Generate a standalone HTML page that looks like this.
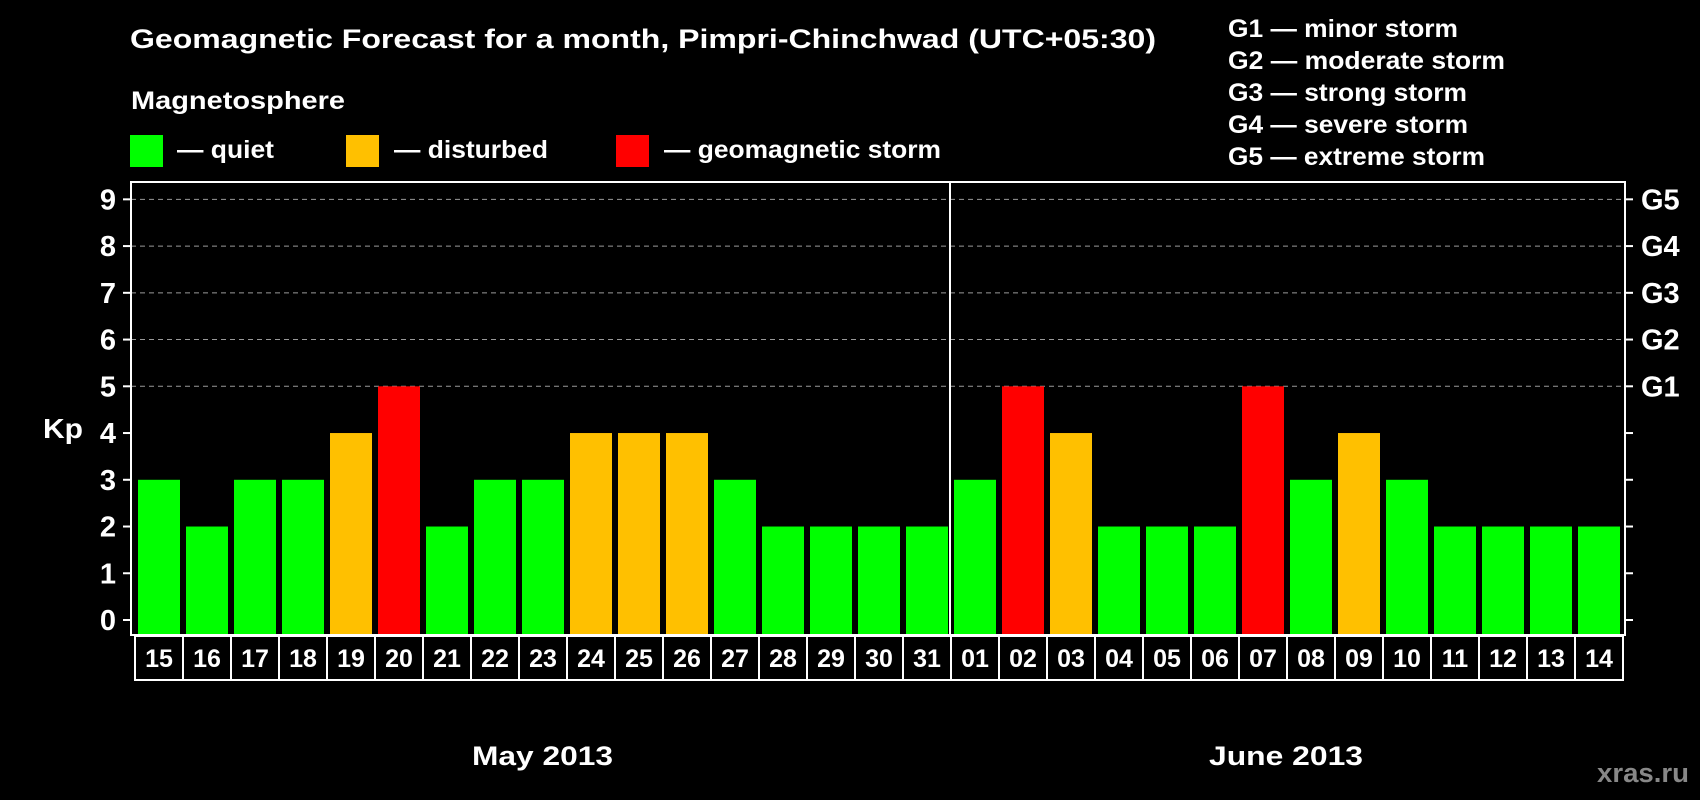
<!DOCTYPE html>
<html><head><meta charset="utf-8"><style>
body{margin:0;background:#000;width:1700px;height:800px;overflow:hidden}
svg{display:block;font-family:"Liberation Sans",Arial,sans-serif;font-weight:bold}
</style></head><body>
<svg id="c" width="1700" height="800" viewBox="0 0 1700 800">
<rect width="1700" height="800" fill="#000"/>
<text x="130" y="48" fill="#fff" font-size="27" textLength="1026" lengthAdjust="spacingAndGlyphs">Geomagnetic Forecast for a month, Pimpri-Chinchwad (UTC+05:30)</text>
<text x="131" y="109" fill="#fff" font-size="25" textLength="214" lengthAdjust="spacingAndGlyphs">Magnetosphere</text>
<g><rect x="130" y="135" width="33" height="32" fill="#00ff00"/><text x="177" y="158" fill="#fff" font-size="25" textLength="97" lengthAdjust="spacingAndGlyphs">— quiet</text></g>
<g><rect x="346" y="135" width="33" height="32" fill="#ffc000"/><text x="394" y="158" fill="#fff" font-size="25" textLength="154" lengthAdjust="spacingAndGlyphs">— disturbed</text></g>
<g><rect x="616" y="135" width="33" height="32" fill="#ff0000"/><text x="664" y="158" fill="#fff" font-size="25" textLength="277" lengthAdjust="spacingAndGlyphs">— geomagnetic storm</text></g>
<g fill="#fff" font-size="25">
<text x="1228" y="37" textLength="230" lengthAdjust="spacingAndGlyphs">G1 — minor storm</text>
<text x="1228" y="69" textLength="277" lengthAdjust="spacingAndGlyphs">G2 — moderate storm</text>
<text x="1228" y="101" textLength="239" lengthAdjust="spacingAndGlyphs">G3 — strong storm</text>
<text x="1228" y="133" textLength="240" lengthAdjust="spacingAndGlyphs">G4 — severe storm</text>
<text x="1228" y="165" textLength="257" lengthAdjust="spacingAndGlyphs">G5 — extreme storm</text>
</g>
<text x="43" y="438" fill="#fff" font-size="28" textLength="40" lengthAdjust="spacingAndGlyphs">Kp</text>
<text x="472" y="765" fill="#fff" font-size="27" textLength="141" lengthAdjust="spacingAndGlyphs">May 2013</text>
<text x="1209" y="765" fill="#fff" font-size="27" textLength="154" lengthAdjust="spacingAndGlyphs">June 2013</text>
<text x="1597" y="782" fill="#888" font-size="27" textLength="92" lengthAdjust="spacingAndGlyphs">xras.ru</text>
<g id="plot"></g>
</svg>
<script>
const days = ["15","16","17","18","19","20","21","22","23","24","25","26","27","28","29","30","31","01","02","03","04","05","06","07","08","09","10","11","12","13","14"];
const kpValues = [3,2,3,3,4,5,2,3,3,4,4,4,3,2,2,2,2,3,5,4,2,2,2,5,3,4,3,2,2,2,2];
const yTicks = [0,1,2,3,4,5,6,7,8,9];
const gLabels = ["G1","G2","G3","G4","G5"];
const NS="http://www.w3.org/2000/svg";
const plot=document.getElementById('plot');
const L=131,R=1625,T=182,B=635,y0=620,unit=46.74,bx0=138,pitch=48,bw=42;
const y=v=>y0-v*unit;
const x=i=>bx0+i*pitch;
function mk(tag,attrs,parent){const e=document.createElementNS(NS,tag);for(const k in attrs)e.setAttribute(k,attrs[k]);(parent||plot).appendChild(e);return e;}
yTicks.forEach(v=>{
  if(v>=5){const g=mk('line',{x1:L,x2:R,y1:y(v),y2:y(v),stroke:'#999','stroke-width':1,'stroke-dasharray':'5,4'});
  
  }
  const t=mk('line',{x1:L-8,x2:L,y1:y(v),y2:y(v),stroke:'#fff','stroke-width':2});
  
  
  const t2=mk('line',{x1:R,x2:R+8,y1:y(v),y2:y(v),stroke:'#fff','stroke-width':2});
  
  
  const lb=mk('text',{x:116,y:y(v)+10,fill:'#fff','font-size':29,'text-anchor':'end'});
  lb.textContent=v;
  
  
});
gLabels.forEach((g,i)=>{
  const t=mk('text',{x:1641,y:y(5+i)+10,fill:'#fff','font-size':29});
  t.textContent=g;
  
  
});
kpValues.forEach((v,i)=>{
  const col=v>=5?'#ff0000':(v>=4?'#ffc000':'#00ff00');
  const b=mk('rect',{x:x(i),y:y(v),width:bw,height:B-y(v),fill:col});
  
  
});
const f=mk('rect',{x:L,y:T,width:R-L,height:B-T,fill:'none',stroke:'#fff','stroke-width':2});


const sep=mk('line',{x1:x(17)-4,x2:x(17)-4,y1:T,y2:B,stroke:'#fff','stroke-width':2});


days.forEach((d,i)=>{
  const bx=mk('rect',{x:x(i)-3,y:636,width:pitch,height:44,fill:'none',stroke:'#fff','stroke-width':2});
  
  
  const t=mk('text',{x:x(i)+bw/2,y:667,fill:'#fff','font-size':25,'text-anchor':'middle'});
  t.textContent=d;
  
  
});
</script>
</body></html>
